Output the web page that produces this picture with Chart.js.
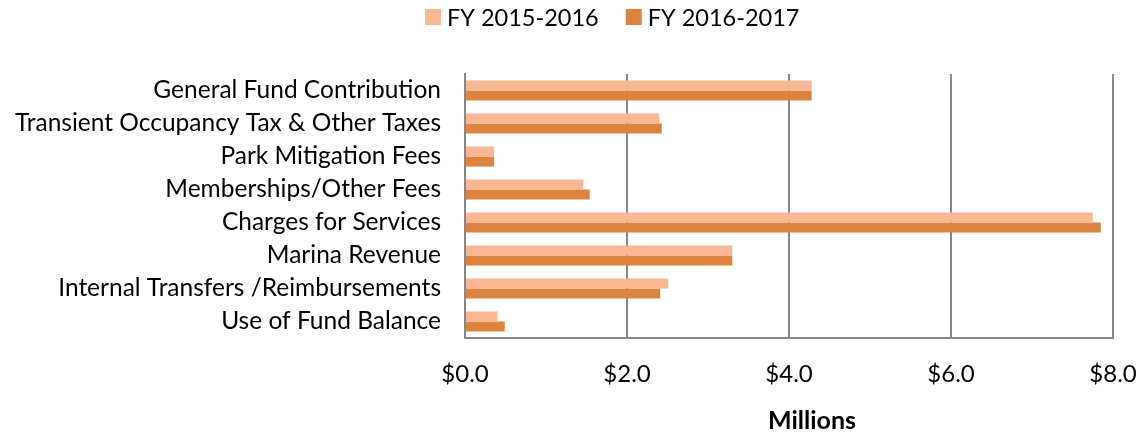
<!DOCTYPE html>
<html>
<head>
<meta charset="utf-8">
<script src="https://cdn.jsdelivr.net/npm/chart.js@4/dist/chart.umd.min.js"></script>
<style>
  html, body { margin: 0; padding: 0; background: #fff; }
  #wrap { width: 1145px; height: 434px; position: relative; }
</style>
</head>
<body>
<div id="wrap"><canvas id="revenueChart"></canvas></div>
<script>
// Revenue sources, in millions of dollars
const categories = [
    'General Fund Contribution',
    'Transient Occupancy Tax & Other Taxes',
    'Park Mitigation Fees',
    'Memberships/Other Fees',
    'Charges for Services',
    'Marina Revenue',
    'Internal Transfers /Reimbursements',
    'Use of Fund Balance'
];
const fy2015 = [4.28, 2.40, 0.36, 1.46, 7.75, 3.30, 2.51, 0.40];
const fy2016 = [4.28, 2.43, 0.36, 1.54, 7.85, 3.30, 2.41, 0.49];
const seriesNames = ['FY 2015-2016', 'FY 2016-2017'];
const xTicks = [0, 2, 4, 6, 8];
const axisTitle = 'Millions';

const FONT = 'Lato, "Open Sans", sans-serif';
const GRID = '#878787';

// Legend + axis title drawn by hand so they can sit off-centre
const extrasPlugin = {
    id: 'extras',
    afterDraw(chart) {
        const { ctx } = chart;
        ctx.save();
        ctx.textBaseline = 'middle';
        ctx.font = '23.5px ' + FONT;
        let x = 425;
        chart.data.datasets.forEach((ds) => {
            ctx.fillStyle = ds.backgroundColor;
            ctx.fillRect(x, 9, 16, 16);
            ctx.fillStyle = '#000';
            ctx.textAlign = 'left';
            ctx.fillText(ds.label, x + 22, 18);
            x += 22 + ctx.measureText(ds.label).width + 27;
        });

        ctx.font = 'bold 25px ' + FONT;
        ctx.textAlign = 'center';
        ctx.fillStyle = '#000';
        ctx.fillText(axisTitle, 812, 421);
        ctx.restore();
    }
};

new Chart(document.getElementById('revenueChart'), {
    type: 'bar',
    data: {
        labels: categories,
        datasets: [
            {
                label: seriesNames[0],
                data: fy2015,
                backgroundColor: '#F9B793',
                barPercentage: 1.0,
                categoryPercentage: 0.61
            },
            {
                label: seriesNames[1],
                data: fy2016,
                backgroundColor: '#DC843F',
                barPercentage: 1.0,
                categoryPercentage: 0.61
            }
        ]
    },
    plugins: [extrasPlugin],
    options: {
        indexAxis: 'y',
        responsive: true,
        maintainAspectRatio: false,
        animation: false,
        layout: { padding: { top: 74, right: 32, bottom: 0, left: 0 } },
        plugins: {
            legend: { display: false },
            tooltip: { enabled: false }
        },
        scales: {
            x: {
                min: 0,
                max: 8,
                afterBuildTicks(scale) {
                    scale.ticks = xTicks.map(v => ({ value: v }));
                },
                afterFit(scale) {
                    scale.height = 96;
                    // let the $8.0 label hang into the right margin
                    scale.paddingLeft = 0;
                    scale.paddingRight = 0;
                },
                grid: { color: GRID, lineWidth: 2, drawTicks: false },
                border: { color: GRID, width: 2 },
                ticks: {
                    padding: 22,
                    color: '#000',
                    font: { family: FONT, size: 24 },
                    callback: (v) => '$' + Number(v).toFixed(1)
                }
            },
            y: {
                afterFit(scale) { scale.width = 465; },
                grid: { display: false, drawTicks: false },
                border: { color: GRID, width: 2 },
                ticks: {
                    padding: 24,
                    color: '#000',
                    font: { family: FONT, size: 24.5 }
                }
            }
        }
    }
});
</script>
</body>
</html>
